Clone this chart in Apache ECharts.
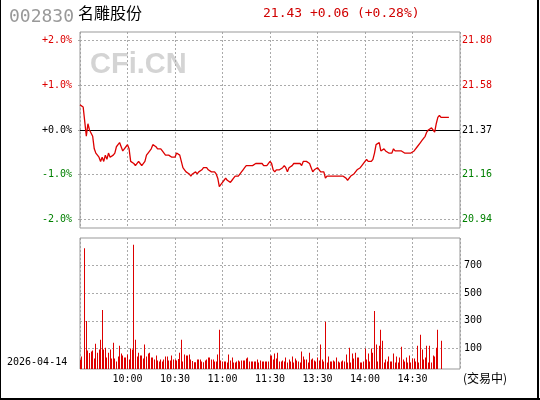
<!DOCTYPE html>
<html><head><meta charset="utf-8">
<script src="https://cdn.jsdelivr.net/npm/echarts@6/dist/echarts.min.js"></script>
<style>html,body{margin:0;padding:0;background:#fff}#c{width:540px;height:400px}</style>
</head><body><div id="c"></div>
<script>
const stockCode = '002830';
const stockName = '名雕股份';
const quoteText = '21.43 +0.06 (+0.28%)';
const tradeDate = '2026-04-14';
const statusText = '(交易中)';
const watermark = 'CFi.CN';
const prevClose = 21.37;
const pctTicks = [-2, -1, 0, 1, 2];
const volTicks = [100, 300, 500, 700];
const timeTickMinutes = [30, 60, 90, 120, 150, 180, 210];
const timeTickLabels = ['10:00', '10:30', '11:00', '11:30', '13:30', '14:00', '14:30'];

const prices = [
  21.49,21.49,21.48,21.41,21.34,21.40,21.37,21.37,21.34,21.28,
  21.26,21.26,21.24,21.22,21.24,21.22,21.25,21.23,21.26,21.24,
  21.24,21.25,21.26,21.29,21.30,21.31,21.29,21.27,21.28,21.29,
  21.30,21.28,21.22,21.22,21.21,21.20,21.20,21.22,21.21,21.20,
  21.20,21.22,21.25,21.26,21.26,21.28,21.30,21.30,21.29,21.28,
  21.28,21.28,21.27,21.27,21.25,21.25,21.25,21.25,21.24,21.24,
  21.24,21.26,21.26,21.25,21.22,21.19,21.18,21.17,21.17,21.16,
  21.15,21.16,21.16,21.17,21.16,21.17,21.17,21.18,21.19,21.19,
  21.19,21.18,21.18,21.17,21.17,21.17,21.16,21.14,21.10,21.11,
  21.12,21.13,21.14,21.13,21.13,21.12,21.13,21.14,21.15,21.15,
  21.15,21.15,21.17,21.18,21.19,21.20,21.20,21.20,21.20,21.20,
  21.20,21.21,21.21,21.21,21.21,21.21,21.20,21.20,21.20,21.20,
  21.22,21.21,21.18,21.17,21.18,21.18,21.18,21.18,21.19,21.20,
  21.19,21.17,21.19,21.19,21.20,21.21,21.21,21.21,21.21,21.21,
  21.20,21.22,21.22,21.22,21.22,21.21,21.19,21.17,21.18,21.18,
  21.19,21.19,21.17,21.17,21.17,21.14,21.15,21.15,21.15,21.15,
  21.15,21.15,21.15,21.15,21.15,21.15,21.15,21.15,21.14,21.13,
  21.13,21.15,21.15,21.16,21.17,21.18,21.18,21.19,21.20,21.20,
  21.22,21.23,21.22,21.22,21.22,21.23,21.26,21.30,21.30,21.31,
  21.27,21.27,21.28,21.27,21.27,21.26,21.26,21.26,21.28,21.27,
  21.27,21.27,21.27,21.27,21.27,21.26,21.26,21.26,21.26,21.26,
  21.26,21.27,21.27,21.29,21.29,21.31,21.32,21.33,21.34,21.36,
  21.37,21.37,21.38,21.37,21.36,21.40,21.43,21.44,21.43,21.43,
  21.43,21.43,21.43,21.43
];

const volumes = [
  20,43,null,824,300,86,69,79,86,29,
  136,71,93,164,379,93,107,36,71,93,
  29,143,29,7,43,121,64,50,36,36,
  57,21,100,93,850,164,43,71,50,50,
  29,129,43,64,71,36,36,21,50,14,
  7,21,7,21,43,43,14,14,50,21,
  21,14,26,71,164,7,57,50,50,57,
  21,10,2,2,21,21,21,7,2,14,
  21,36,36,21,21,7,7,57,236,14,
  7,7,7,0,57,14,36,0,0,7,
  14,7,14,14,14,29,36,7,7,7,
  7,7,21,0,14,7,7,7,7,7,
  50,50,21,64,29,71,7,7,14,7,
  36,0,21,7,43,0,29,14,7,0,
  79,43,21,21,0,71,21,29,14,7,
  36,14,129,21,7,293,0,43,7,7,
  14,7,36,7,0,7,14,7,57,0,
  107,0,64,29,71,36,36,0,0,7,
  100,21,64,7,100,71,371,129,7,121,
  236,157,0,21,7,43,7,7,64,0,
  43,0,36,114,21,7,36,0,50,0,
  29,29,7,121,0,200,93,21,36,121,
  0,121,0,50,43,107,236,null,157,null,
  null,null,null,null
];

const RED = '#dd0000', GREEN = '#008000', GRIDC = '#aaaaaa';
const R = 0.0219;
const PMIN = prevClose * (1 - R), PMAX = prevClose * (1 + R);
const VMIN = -47, VMAX = 898;
const priceTickValues = pctTicks.map(k => prevClose * (1 + k / 100));
const MONO = 'DejaVu Sans Mono';

function tickColor(v) {
  const n = parseFloat(v);
  if (n > prevClose + 1e-6) return RED;
  if (n < prevClose - 1e-6) return GREEN;
  return '#000';
}
const dotted = { color: GRIDC, type: [2, 2], width: 1 };

const chart = echarts.init(document.getElementById('c'), null, { renderer: 'canvas' });
chart.setOption({
  animation: false,
  backgroundColor: '#fff',
  textStyle: { fontFamily: MONO },
  grid: [
    { left: 80, top: 32, width: 380, height: 196, show: true, borderColor: '#999', borderWidth: 1, backgroundColor: 'transparent', z: 3 },
    { left: 80, top: 238, width: 380, height: 131, show: true, borderColor: '#999', borderWidth: 1, backgroundColor: 'transparent', z: 3 }
  ],
  xAxis: [
    { type: 'value', gridIndex: 0, min: 0, max: 240, interval: 30,
      axisLine: { show: false }, axisTick: { show: false }, axisLabel: { show: false },
      splitLine: { show: true, lineStyle: dotted } },
    { type: 'value', gridIndex: 1, min: 0, max: 240, interval: 30,
      axisLine: { show: false }, axisTick: { show: false },
      axisLabel: { show: true, margin: 5, color: '#000', fontFamily: MONO, fontSize: 10,
        formatter: function (val) { const i = timeTickMinutes.indexOf(Math.round(val)); return i >= 0 ? timeTickLabels[i] : ''; } },
      splitLine: { show: true, lineStyle: dotted } }
  ],
  yAxis: [
    { type: 'value', gridIndex: 0, position: 'left', min: PMIN, max: PMAX,
      axisLine: { show: false },
      axisTick: { show: true, length: 4, customValues: priceTickValues, lineStyle: dotted },
      axisLabel: { show: true, customValues: priceTickValues, margin: 8, fontFamily: MONO, fontSize: 10,
        color: tickColor,
        formatter: function (v) { let p = Math.round((v / prevClose - 1) * 1000) / 10; return (p >= 0 ? '+' : '') + p.toFixed(1) + '%'; } },
      splitLine: { show: true, lineStyle: dotted } },
    { type: 'value', gridIndex: 0, position: 'right', min: PMIN, max: PMAX,
      axisLine: { show: false },
      axisTick: { show: false, customValues: priceTickValues },
      axisLabel: { show: true, customValues: priceTickValues, margin: 2, fontFamily: MONO, fontSize: 10,
        color: tickColor, formatter: function (v) { return v.toFixed(2); } },
      splitLine: { show: false } },
    { type: 'value', gridIndex: 1, position: 'right', min: VMIN, max: VMAX,
      axisLine: { show: false },
      axisTick: { show: false, customValues: volTicks },
      axisLabel: { show: true, customValues: volTicks, margin: 4, color: '#000', fontFamily: MONO, fontSize: 10 },
      splitLine: { show: true, lineStyle: dotted } }
  ],
  graphic: [
    { type: 'text', left: 9, top: 8, z: 10, style: { text: stockCode, fill: '#999', font: '18px "DejaVu Sans Mono"' } },
    { type: 'text', left: 78, top: 5, z: 10, style: { text: stockName, fill: '#000', font: '16px "Noto Sans CJK SC"' } },
    { type: 'text', left: 263, top: 7, z: 10, style: { text: quoteText, fill: '#d00000', font: '13px "DejaVu Sans Mono"' } },
    { type: 'text', left: 90, top: 50, z: -5, style: { text: watermark, fill: '#d4d4d4', font: 'bold 29px "Liberation Sans"' } },
    { type: 'text', left: 7, top: 357, z: 10, style: { text: tradeDate, fill: '#000', font: '10px "DejaVu Sans Mono"' } },
    { type: 'text', left: 463, top: 372, z: 10, style: { text: statusText, fill: '#000', font: '12px "Noto Sans CJK SC"' } },
    { type: 'rect', z: 20, shape: { x: 0, y: 0, width: 1, height: 400 }, style: { fill: '#000' } },
    { type: 'rect', z: 20, shape: { x: 0, y: 398, width: 540, height: 2 }, style: { fill: '#000' } },
    { type: 'rect', z: 20, shape: { x: 537, y: 0, width: 2, height: 400 }, style: { fill: '#000' } }
  ],
  series: [
    { type: 'line', xAxisIndex: 0, yAxisIndex: 0, z: 5,
      data: prices.map((p, i) => [i, p]), showSymbol: false, symbol: 'none',
      lineStyle: { color: RED, width: 1.3 },
      markLine: { silent: true, symbol: ['none', 'none'], label: { show: false },
        lineStyle: { color: '#000', type: 'solid', width: 1 }, data: [{ yAxis: prevClose }] } },
    { type: 'custom', xAxisIndex: 1, yAxisIndex: 2, z: 5,
      data: volumes.map((v, i) => v == null ? null : [i, v]).filter(d => d),
      encode: { x: 0, y: 1 },
      renderItem: function (params, api) {
        const m = api.value(0), v = api.value(1);
        const top = api.coord([m, v]);
        const base = api.coord([m, VMIN]);
        return { type: 'rect', shape: { x: Math.floor(top[0]), y: top[1], width: 1, height: base[1] - top[1] }, style: { fill: RED } };
      } }
  ]
});
</script>
</body></html>
